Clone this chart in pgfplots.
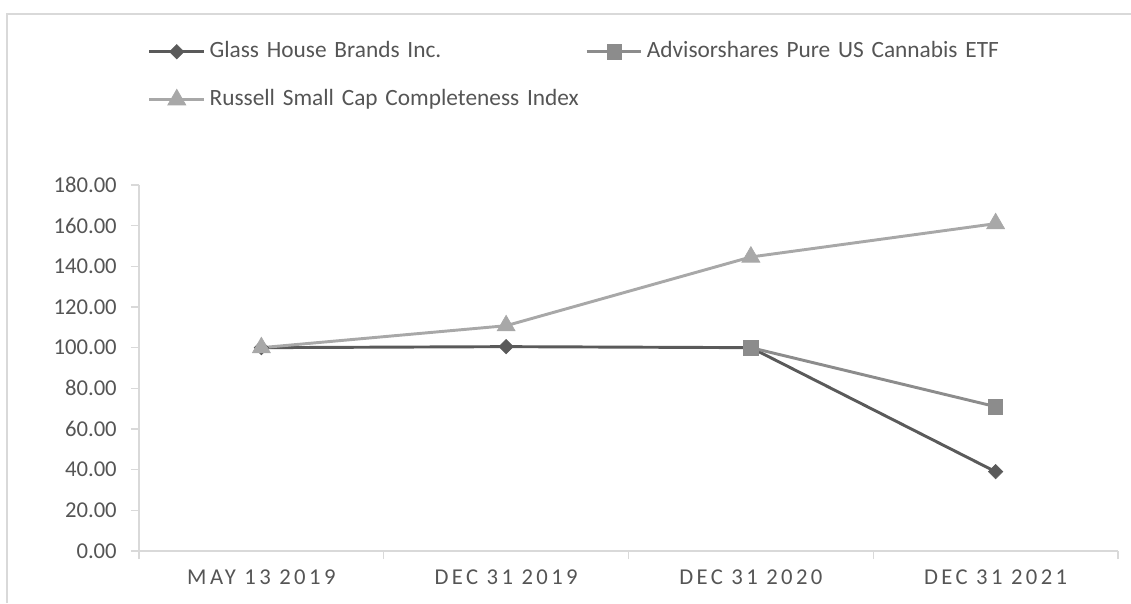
\documentclass[border=0pt]{standalone}
\usepackage{fontspec}
\setmainfont{Carlito}
\usepackage{pgfplots}
\pgfplotsset{compat=1.18}

\definecolor{gh}{HTML}{5A5A5A}
\definecolor{adv}{HTML}{8C8C8C}
\definecolor{rus}{HTML}{A8A8A8}
\definecolor{axisgray}{HTML}{D9D9D9}
\definecolor{txt}{HTML}{555555}

\begin{document}
\begin{tikzpicture}
% page = 1131 x 603 px at 0.75pt per px, axis box origin at px (139,551)
\path[use as bounding box] (-104.25pt,-39pt) rectangle (744pt,413.25pt);
\draw[axisgray, line width=0.8pt] (-99pt,-39pt) -- (-99pt,402.75pt) -- (744pt,402.75pt);
\begin{axis}[
	scale only axis, width=734.25pt, height=274.5pt,
	xmin=-0.5, xmax=3.5, ymin=0, ymax=180,
	axis x line*=bottom, axis y line*=left,
	axis line style={axisgray, line width=1pt},
	tick align=outside,
	major tick length=6pt,
	major tick style={axisgray, line width=1pt},
	ytick={0,20,...,180},
	xtick={-0.5,0.5,1.5,2.5,3.5}, xticklabels={},
	extra x ticks={0,1,2,3},
	extra x tick labels={MAY 13 2019, DEC 31 2019, DEC 31 2020, DEC 31 2021},
	extra x tick style={major tick length=0pt},
	/pgf/number format/.cd, fixed, fixed zerofill, precision=2, assume math mode=true,
	/pgfplots/.cd,
	yticklabel style={font=\fontsize{17}{20}\selectfont, text=txt, inner sep=0pt, anchor=east, xshift=-10.5pt},
	xticklabel style={font=\fontsize{17}{20}\selectfont\addfontfeature{LetterSpace=15}, text=txt, inner sep=0pt, anchor=base, yshift=-25pt},
	legend columns=2,
	legend cell align=left,
	legend style={draw=none, fill=none, inner sep=0pt, outer sep=0pt,
		at={(axis description cs:0,1)}, anchor=north west, xshift=6.75pt, yshift=108.45pt,
		row sep=19pt, column sep=0pt,
		font=\fontsize{17.5}{20}\selectfont, text=txt,
		nodes={inner sep=0pt, text height=13pt, text depth=4pt, text width=278pt, align=left},
		/tikz/every odd column/.append style={column sep=3pt},
		/tikz/every even column/.append style={column sep=3.75pt}},
	legend image code/.code={\draw[mark repeat=2,mark phase=2,#1] plot coordinates {(0pt,0pt)(20.5pt,0pt)(41pt,0pt)};},
	clip=false,
]
\addplot[gh, line width=2.2pt, mark=square*, mark size=3.8pt, mark options={rotate=45, line width=0.5pt}]
	coordinates {(0,100)(1,100.5)(2,100)(3,39)};
\addlegendentry{Glass House Brands Inc.}
\addplot[adv, line width=2.2pt, mark=square*, mark size=5.4pt, mark options={line width=0.5pt}]
	coordinates {(2,100)(3,71)};
\addlegendentry{Advisorshares Pure US Cannabis ETF}
\addplot[rus, line width=2.2pt, mark=triangle*, mark size=7.8pt, mark options={line width=0.5pt}]
	coordinates {(0,100)(1,110.8)(2,144.6)(3,161)};
\addlegendentry{Russell Small Cap Completeness Index}
\end{axis}
\end{tikzpicture}
\end{document}
